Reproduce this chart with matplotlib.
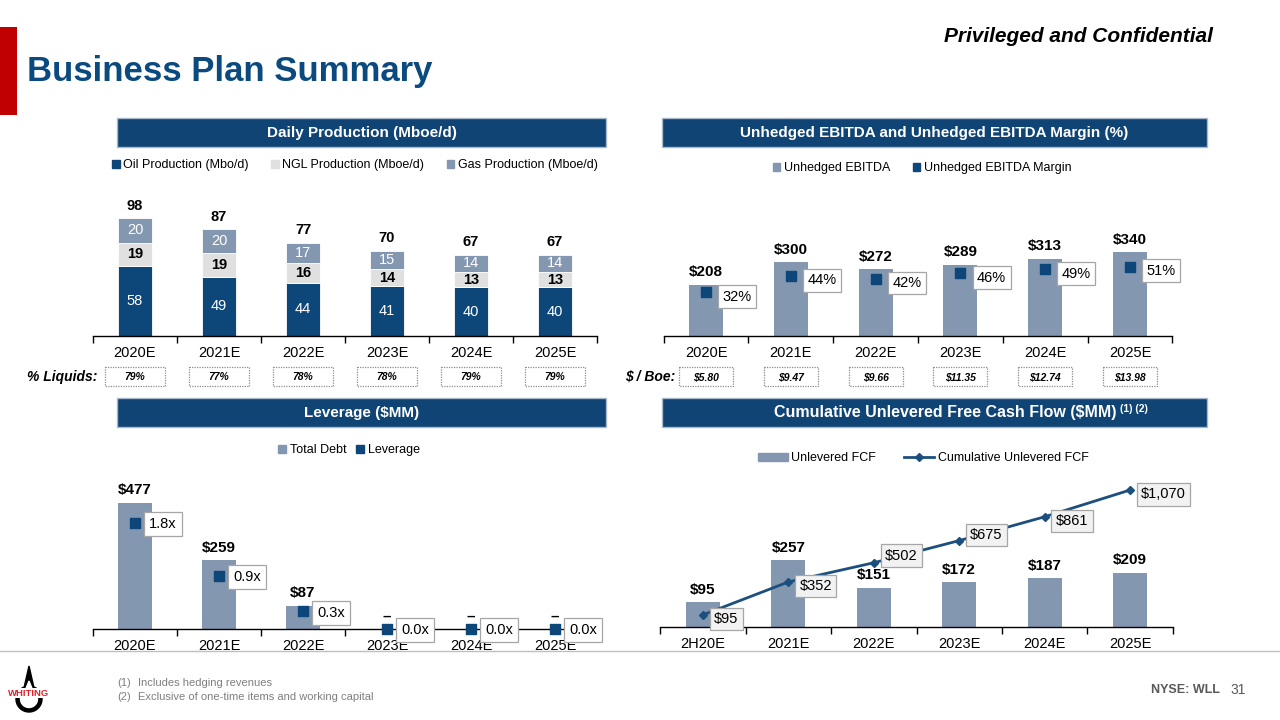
import matplotlib
matplotlib.use('Agg')
import matplotlib.pyplot as plt
from matplotlib.patches import Rectangle, Polygon, Patch
from matplotlib.lines import Line2D
import numpy as np

plt.rcParams['font.family'] = ['Liberation Sans', 'DejaVu Sans']
plt.rcParams['text.parse_math'] = False

# ---------------- data ----------------
years = ['2020E', '2021E', '2022E', '2023E', '2024E', '2025E']
oil = [58, 49, 44, 41, 40, 40]
ngl = [19, 19, 16, 14, 13, 13]
gas = [20, 20, 17, 15, 14, 14]
total_prod = [98, 87, 77, 70, 67, 67]
liquids = ['79%', '77%', '78%', '78%', '79%', '79%']

ebitda = [208, 300, 272, 289, 313, 340]
margin = [32, 44, 42, 46, 49, 51]
per_boe = ['$5.80', '$9.47', '$9.66', '$11.35', '$12.74', '$13.98']

debt = [477, 259, 87, 0, 0, 0]
leverage = [1.8, 0.9, 0.3, 0.0, 0.0, 0.0]

fcf_years = ['2H20E', '2021E', '2022E', '2023E', '2024E', '2025E']
fcf = [95, 257, 151, 172, 187, 209]
cum_fcf = [95, 352, 502, 675, 861, 1070]

# ---------------- style ----------------
NAVY = '#0D4678'
STEEL = '#8497B0'
LGREY = '#E0E0E0'
HEADER = '#0F4475'
TITLE = '#0B4A7E'
LINEC = '#1B4F7D'
cum_label_dy = [-3, -3, 5, 4, -3, -3]   # label placement offsets (points)

W, H = 1280, 720
fig = plt.figure(figsize=(12.8, 7.2), dpi=100)

def pbox(x0, y0, x1, y1):
    return [x0 / W, 1 - y1 / H, (x1 - x0) / W, (y1 - y0) / H]

ov = fig.add_axes([0, 0, 1, 1], zorder=0)
ov.set_xlim(0, W)
ov.set_ylim(H, 0)
ov.axis('off')

# title area
ov.add_patch(Rectangle((0, 27), 17, 88, color='#C00000', lw=0))
ov.text(27, 71, 'Business Plan Summary', fontsize=25, fontweight='bold',
        color=TITLE, va='center', ha='left')
ov.text(1213, 37, 'Privileged and Confidential', fontsize=15, fontweight='bold',
        style='italic', color='black', va='center', ha='right')

# section headers
def header(x0, x1, y0, text):
    ov.add_patch(Rectangle((x0, y0), x1 - x0, 29, fc=HEADER, ec='#A9B9CB', lw=1))
    return ov.text((x0 + x1) / 2, y0 + 15, text, color='white', fontsize=11,
                   fontweight='bold', ha='center', va='center')

header(117, 606, 118, 'Daily Production (Mboe/d)')
header(662, 1207, 118, 'Unhedged EBITDA and Unhedged EBITDA Margin (%)')
header(117, 606, 398, 'Leverage ($MM)')
ov.add_patch(Rectangle((662, 398), 545, 29, fc=HEADER, ec='#A9B9CB', lw=1))
ov.text(1117, 413, 'Cumulative Unlevered Free Cash Flow ($MM)', color='white',
        fontsize=11.5, fontweight='bold', ha='right', va='center')
ov.text(1120, 409, '(1) (2)', color='white', fontsize=7.5, fontweight='bold',
        ha='left', va='center')

# footer
ov.plot([0, W], [651, 651], color='#BFBFBF', lw=1)
ov.text(117, 683, '(1)', fontsize=8, color='#7F7F7F', va='center')
ov.text(138, 683, 'Includes hedging revenues', fontsize=8, color='#7F7F7F', va='center')
ov.text(117, 697, '(2)', fontsize=8, color='#7F7F7F', va='center')
ov.text(138, 697, 'Exclusive of one-time items and working capital', fontsize=8,
        color='#7F7F7F', va='center')
ov.text(1185, 690, 'NYSE: WLL', fontsize=9, fontweight='bold', color='#595959',
        ha='center', va='center')
ov.text(1238, 690, '31', fontsize=10, color='#595959', ha='center', va='center')

# logo (drop)
cx, cy, r = 29, 699, 13
tip = (cx, 666)
th = np.linspace(-0.38 * np.pi, 1.38 * np.pi, 80)
outer = [tip] + [(cx + r * np.cos(t), cy + r * np.sin(t)) for t in th]
ov.add_patch(Polygon(outer, closed=True, fc='black', ec='black'))
ri = 8.5
th2 = np.linspace(-0.33 * np.pi, 1.33 * np.pi, 80)
inner = [(cx, 681)] + [(cx + ri * np.cos(t), cy + ri * np.sin(t)) for t in th2]
ov.add_patch(Polygon(inner, closed=True, fc='white', ec='white'))
ov.add_patch(Rectangle((11, 688), 36, 10, fc='white', ec='none'))
ov.text(cx, 693, 'WHITING', fontsize=6.8, fontweight='bold', color='#E0202A',
        ha='center', va='center')


def setup_axis(ax, labels):
    ax.set_xlim(-0.5, 5.5)
    for s in ['top', 'right', 'left']:
        ax.spines[s].set_visible(False)
    ax.spines['bottom'].set_color('black')
    ax.spines['bottom'].set_linewidth(1)
    ax.set_xticks(range(6))
    ax.set_xticklabels(labels, fontsize=10.5)
    ax.tick_params(axis='x', which='major', length=0, pad=7)
    ax.set_xticks(np.arange(-0.5, 6, 1), minor=True)
    ax.tick_params(axis='x', which='minor', length=5, width=1, direction='out')
    ax.set_yticks([])
    ax.patch.set_alpha(0)


def dotted_boxes(x0, x1, values, bw, label, lx):
    sp = (x1 - x0) / 6
    for i, v in enumerate(values):
        c = x0 + (i + 0.5) * sp
        ov.add_patch(Rectangle((c - bw / 2, 367), bw, 19, fc='white', ec='#8C8C8C',
                               lw=0.9, ls=(0, (1, 1))))
        ov.text(c, 377, v, fontsize=7.5, fontweight='bold', style='italic',
                ha='center', va='center')
    ov.text(lx, 377, label, fontsize=10, fontweight='bold', style='italic',
            ha='right', va='center')


LEG = dict(frameon=False, fontsize=9, handletextpad=0.3,
           bbox_transform=fig.transFigure, loc='center')

# ---------------- panel 1: production ----------------
P1 = (93, 597)
ax1 = fig.add_axes(pbox(P1[0], 190, P1[1], 336), zorder=2)
setup_axis(ax1, years)
ax1.set_ylim(0, 146 / 1.214)
x = np.arange(6)
bw = 0.4
oil_a, ngl_a, gas_a = np.array(oil), np.array(ngl), np.array(gas)
ax1.bar(x, oil_a, bw, color=NAVY, edgecolor='white', lw=0.6)
ax1.bar(x, ngl_a, bw, bottom=oil_a, color=LGREY, edgecolor='white', lw=0.6)
ax1.bar(x, gas_a, bw, bottom=oil_a + ngl_a, color=STEEL, edgecolor='white', lw=0.6)
for i in range(6):
    ax1.text(i, oil[i] / 2, str(oil[i]), color='white', fontsize=10.5,
             ha='center', va='center')
    ax1.text(i, oil[i] + ngl[i] / 2, str(ngl[i]), color='black', fontsize=10.5,
             fontweight='bold', ha='center', va='center')
    ax1.text(i, oil[i] + ngl[i] + gas[i] / 2, str(gas[i]), color='white',
             fontsize=10.5, ha='center', va='center')
    ax1.annotate(str(total_prod[i]), (i, oil[i] + ngl[i] + gas[i]),
                 xytext=(0, 4), textcoords='offset points', ha='center',
                 va='bottom', fontsize=10.5, fontweight='bold')
h1 = [Patch(color=NAVY), Patch(color=LGREY), Patch(color=STEEL)]
ax1.legend(h1, ['Oil Production (Mbo/d)', 'NGL Production (Mboe/d)',
                'Gas Production (Mboe/d)'],
           bbox_to_anchor=(355 / W, 1 - 165 / H), ncol=3,
           handlelength=0.6, handleheight=0.6, columnspacing=1.8, **LEG)
dotted_boxes(P1[0], P1[1], liquids, 60, '% Liquids:', 97)

# ---------------- panel 2: EBITDA ----------------
P2 = (663.6, 1172.4)
ax2 = fig.add_axes(pbox(P2[0], 190, P2[1], 336), zorder=2)
setup_axis(ax2, years)
ax2.set_ylim(0, 146 / 0.246)
ax2.bar(x, ebitda, bw, color=STEEL)
for i in range(6):
    ax2.annotate(f'${ebitda[i]}', (i, ebitda[i]), xytext=(0, 4),
                 textcoords='offset points', ha='center', va='bottom',
                 fontsize=11, fontweight='bold')
ax2b = ax2.twinx()
ax2b.set_ylim(0, 146 / 1.36)
ax2b.axis('off')
ax2b.scatter(x, margin, marker='s', s=55, color=NAVY, zorder=3)
for i in range(6):
    ax2b.annotate(f'{margin[i]}%', (i, margin[i]), xytext=(12, -3),
                  textcoords='offset points', ha='left', va='center',
                  fontsize=10.5,
                  bbox=dict(boxstyle='square,pad=0.3', fc='white',
                            ec='#A6A6A6', lw=0.9))
h2 = [Patch(color=STEEL), Patch(color=NAVY)]
ax2.legend(h2, ['Unhedged EBITDA', 'Unhedged EBITDA Margin'],
           bbox_to_anchor=(922 / W, 1 - 168 / H), ncol=2,
           handlelength=0.6, handleheight=0.6, columnspacing=1.8, **LEG)
dotted_boxes(P2[0], P2[1], per_boe, 54, '$ / Boe:', 675)

# ---------------- panel 3: leverage ----------------
P3 = (93, 597)
ax3 = fig.add_axes(pbox(P3[0], 470, P3[1], 629), zorder=2)
setup_axis(ax3, years)
ax3.set_ylim(0, 159 / 0.265)
ax3.bar(x, debt, bw, color=STEEL)
for i in range(6):
    lab = f'${debt[i]}' if debt[i] > 0 else '–'
    ax3.annotate(lab, (i, debt[i]), xytext=(0, 4), textcoords='offset points',
                 ha='center', va='bottom', fontsize=11, fontweight='bold')
ax3b = ax3.twinx()
ax3b.set_ylim(0, 159 / 59)
ax3b.axis('off')
ax3b.scatter(x, leverage, marker='s', s=55, color=NAVY, zorder=3, clip_on=False)
for i in range(6):
    ax3b.annotate(f'{leverage[i]:.1f}x', (i, leverage[i]), xytext=(10, -1),
                  textcoords='offset points', ha='left', va='center',
                  fontsize=10.5, annotation_clip=False,
                  bbox=dict(boxstyle='square,pad=0.35', fc='white',
                            ec='#A6A6A6', lw=0.9))
h3 = [Patch(color=STEEL), Patch(color=NAVY)]
ax3.legend(h3, ['Total Debt', 'Leverage'],
           bbox_to_anchor=(349 / W, 1 - 450 / H), ncol=2,
           handlelength=0.6, handleheight=0.6, columnspacing=0.8, **LEG)

# ---------------- panel 4: FCF ----------------
P4 = (660.3, 1172.7)
ax4 = fig.add_axes(pbox(P4[0], 470, P4[1], 627), zorder=2)
setup_axis(ax4, fcf_years)
ax4.set_ylim(0, 157 / 0.26)
ax4.bar(x, fcf, bw, color=STEEL)
for i in range(6):
    ax4.annotate(f'${fcf[i]}', (i, fcf[i]), xytext=(0, 4),
                 textcoords='offset points', ha='center', va='bottom',
                 fontsize=11, fontweight='bold')
ax4b = ax4.twinx()
ax4b.set_ylim(0, 157 / 0.128)
ax4b.axis('off')
ax4b.plot(x, cum_fcf, color=LINEC, lw=2, marker='D', ms=4, zorder=3)
for i in range(6):
    ax4b.annotate(f'${cum_fcf[i]:,}', (i, cum_fcf[i]),
                  xytext=(8, cum_label_dy[i]),
                  textcoords='offset points', ha='left', va='center',
                  fontsize=10.5,
                  bbox=dict(boxstyle='square,pad=0.3', fc='#F2F2F2',
                            ec='#A6A6A6', lw=0.9))
h4 = [Patch(color=STEEL),
      Line2D([], [], color=LINEC, lw=2, marker='D', ms=4)]
ax4.legend(h4, ['Unlevered FCF', 'Cumulative Unlevered FCF'],
           bbox_to_anchor=(923 / W, 1 - 458 / H), ncol=2,
           handlelength=2.4, handleheight=0.6, columnspacing=2.2, **LEG)

fig.savefig('out.png', dpi=100)
